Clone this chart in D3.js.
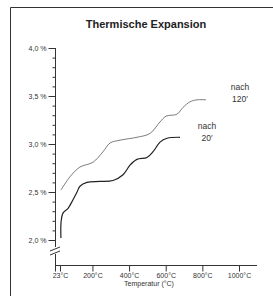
<!DOCTYPE html>
<html>
<head>
<meta charset="utf-8">
<script src="https://cdn.jsdelivr.net/npm/d3@7"></script>
<style>
  body { margin: 0; background: #fff; }
  svg { display: block; font-family: "Liberation Sans", Arial, sans-serif; }
  .tick text { fill: #333; font-size: 7px; }
  .tick line { stroke: #333; }
</style>
</head>
<body>
<svg width="273" height="296"></svg>
<script>
// values
const xTicks = [23, 200, 400, 600, 800, 1000];
const yMajor = [2.0, 2.5, 3.0, 3.5, 4.0];
const yMinor = d3.range(20, 41).map(d => d / 10);

// nach 120'
const temp120 = [28, 78, 132, 203, 258, 296, 351, 443, 514, 569, 602, 661, 694, 733, 771, 820];
const exp120 = [2.52, 2.66, 2.76, 2.81, 2.92, 3.01, 3.04, 3.07, 3.11, 3.23, 3.29, 3.31, 3.38, 3.44, 3.46, 3.46];

// nach 20'
const temp20 = [28, 29, 39, 67, 94, 116, 132, 170, 241, 312, 367, 405, 443, 498, 531, 569, 607, 678];
const exp20 = [2.02, 2.19, 2.28, 2.33, 2.42, 2.50, 2.56, 2.60, 2.61, 2.62, 2.68, 2.78, 2.84, 2.86, 2.92, 3.02, 3.06, 3.07];

const svg = d3.select('svg');

// frame (left + top)
svg.append('path')
  .attr('d', 'M10.5,296 V7.5 H273')
  .attr('fill', 'none')
  .attr('stroke', '#333')
  .attr('stroke-width', 1);

svg.append('text')
  .attr('x', 146)
  .attr('y', 28)
  .attr('text-anchor', 'middle')
  .attr('font-weight', 'bold')
  .attr('font-size', 11)
  .attr('fill', '#222')
  .text('Thermische Expansion');

const x = d3.scaleLinear().domain([23, 1000]).range([60, 239]);
const y = d3.scaleLinear().domain([2, 4]).range([240, 48]);
const axisX = 55.5;
const baseY = 265.5;

// y axis: minor ticks, then major ticks with labels
svg.append('g')
  .attr('transform', `translate(${axisX},0)`)
  .call(d3.axisLeft(y).tickValues(yMinor).tickSize(3).tickFormat(''))
  .call(g => g.select('.domain').remove());

svg.append('g')
  .attr('transform', `translate(${axisX},0)`)
  .call(d3.axisLeft(y).tickValues(yMajor).tickSize(7).tickPadding(2)
    .tickFormat(d => d3.format('.1f')(d).replace('.', ',') + ' %'))
  .call(g => g.select('.domain').remove());

// y axis line with break
svg.append('path')
  .attr('d', `M${axisX},${y(4)} V247 M${axisX},254 V${baseY + 6}`)
  .attr('stroke', '#333')
  .attr('fill', 'none');
svg.append('path')
  .attr('d', 'M50,251 L60,247 M50,255 L60,251')
  .attr('stroke', '#333')
  .attr('fill', 'none');

// x axis
svg.append('g')
  .attr('transform', `translate(0,${baseY})`)
  .call(d3.axisBottom(x).tickValues(xTicks).tickSize(6).tickPadding(2)
    .tickFormat(d => d + '°C'))
  .call(g => g.select('.domain').remove());

svg.append('line')
  .attr('x1', axisX).attr('x2', 257)
  .attr('y1', baseY).attr('y2', baseY)
  .attr('stroke', '#333');

svg.append('text')
  .attr('x', 149)
  .attr('y', 286)
  .attr('text-anchor', 'middle')
  .attr('font-size', 7)
  .attr('fill', '#333')
  .text('Temperatur (°C)');

// curves
const line = d3.line()
  .x(d => x(d[0]))
  .y(d => y(d[1]))
  .curve(d3.curveCatmullRom.alpha(0.5));

svg.append('path')
  .datum(d3.zip(temp120, exp120))
  .attr('d', line)
  .attr('fill', 'none')
  .attr('stroke', '#444')
  .attr('stroke-width', 0.7);

svg.append('path')
  .datum(d3.zip(temp20, exp20))
  .attr('d', line)
  .attr('fill', 'none')
  .attr('stroke', '#222')
  .attr('stroke-width', 1.2);

// curve labels
const labels = [
  { lines: ['nach', '120\u2032'], x: 240, y: 90 },
  { lines: ['nach', '20\u2032'], x: 207, y: 129 }
];
labels.forEach(l => {
  l.lines.forEach((t, i) => {
    svg.append('text')
      .attr('x', l.x)
      .attr('y', l.y + i * 12)
      .attr('text-anchor', 'middle')
      .attr('font-size', 8.5)
      .attr('fill', '#333')
      .text(t);
  });
});
</script>
</body>
</html>
